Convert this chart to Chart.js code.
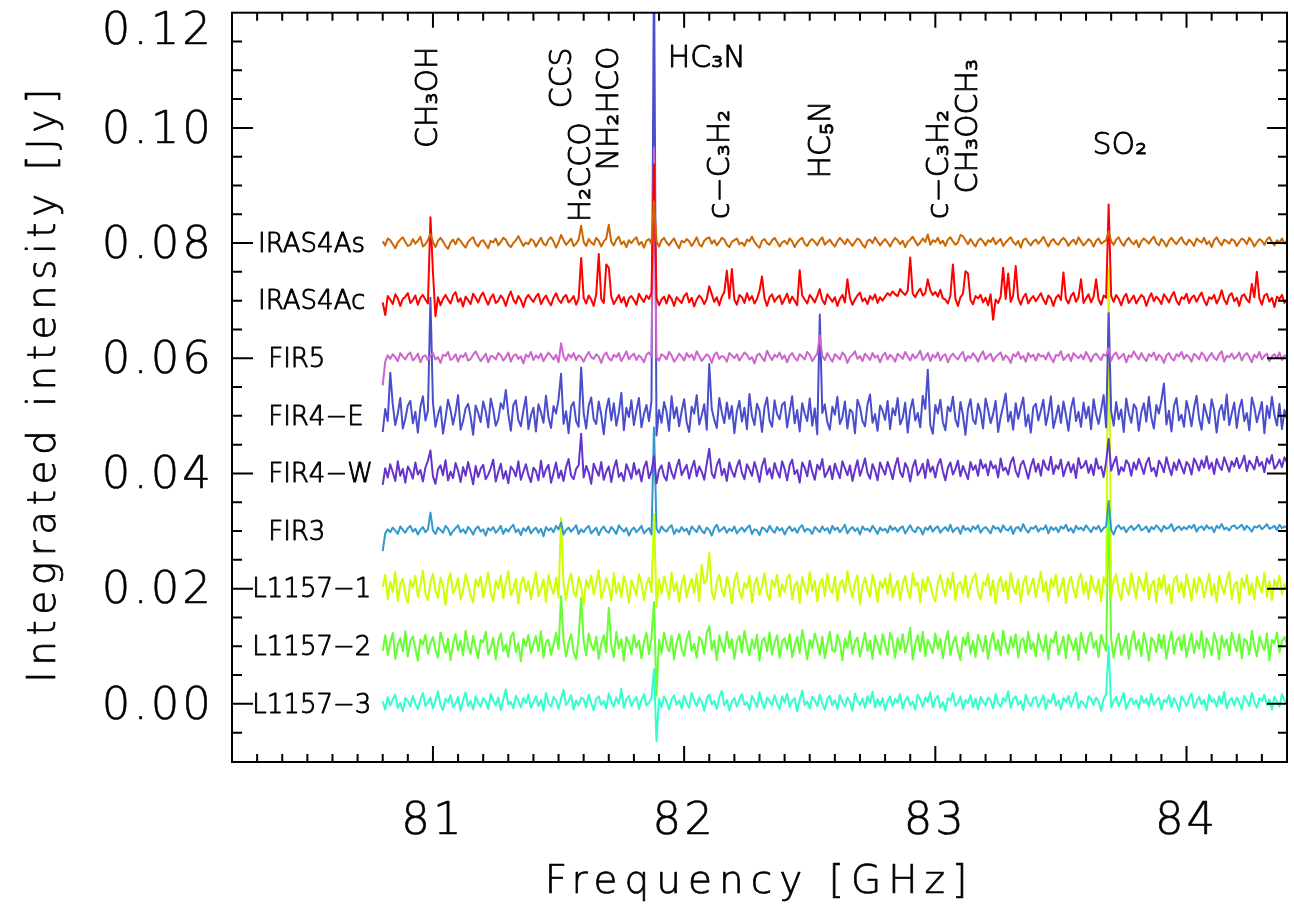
<!DOCTYPE html>
<html><head><meta charset="utf-8">
<script src="https://cdn.jsdelivr.net/npm/chart.js@4.4.0/dist/chart.umd.min.js"></script>
<style>html,body{margin:0;padding:0;background:#fff;}canvas{display:block;}</style>
</head><body>
<canvas id="c" width="1294" height="913"></canvas>
<script>
// ---------------- DATA ----------------
// Spectral channels: first channel frequency and channel width (GHz)
const freqStartGHz = 80.80;
const freqStepGHz = 0.01;

const seriesNames = ['IRAS4As', 'IRAS4Ac', 'FIR5', 'FIR4\u2212E', 'FIR4\u2212W', 'FIR3', 'L1157\u22121', 'L1157\u22122', 'L1157\u22123'];
// vertical offset of each spectrum in the stack (Jy)
const seriesOffsetJy = [0.08, 0.07, 0.06, 0.05, 0.04, 0.03, 0.02, 0.01, 0.00];

// Spectra: integrated intensity per channel in mJy (before stacking offset)
const iras4As = [
0.3,-0.4,0.8,0.5,-0.2,-0.9,0.1,0.6,1.0,0.2,-0.5,-0.3,0.7,-0.1,0.4,1.1,-0.6,-0.2,0.5,1.6,
0.2,-0.7,0.4,0.9,0.3,-0.5,-1.0,0.1,0.6,-0.2,0.8,0.4,-0.3,-0.8,0.2,0.7,1.0,-0.1,-0.6,0.3,
0.5,-0.2,-0.9,0.4,0.1,0.8,-0.4,0.2,0.9,0.6,-0.3,-0.7,0.0,0.5,1.2,0.3,-0.5,0.1,-0.2,0.7,
0.4,-0.6,0.2,0.9,-0.1,-0.4,0.6,1.0,0.3,-0.8,0.1,1.4,0.5,-0.3,0.2,0.8,-0.5,-0.1,0.6,3.0,
0.2,-0.5,0.7,0.1,-0.3,0.9,0.4,-0.6,0.3,0.8,3.2,0.2,-0.4,0.6,1.1,-0.2,0.3,-0.7,0.5,0.0,
0.6,1.0,-0.3,0.2,-0.8,0.4,0.7,-0.1,7.2,0.3,-0.6,0.5,0.9,0.1,-0.4,0.3,0.8,-0.2,-0.9,0.4,
0.1,0.7,0.3,-0.5,0.2,1.0,-0.2,-0.6,0.4,0.8,1.0,-0.1,0.5,-0.4,0.2,0.9,0.6,-0.3,-0.7,0.2,
0.5,0.8,-0.2,0.1,-0.5,0.6,0.3,1.1,0.2,-0.4,-0.8,0.4,0.7,0.0,-0.3,0.5,0.9,0.2,-0.6,0.1,
0.4,-0.2,0.8,0.3,-0.7,0.1,0.6,0.9,-0.1,-0.5,0.3,0.7,0.2,-0.4,0.5,1.0,-0.3,0.2,0.6,-0.1,
-0.6,0.3,0.9,0.4,-0.2,0.7,0.1,-0.5,0.2,0.8,0.5,-0.3,-0.8,0.4,0.6,0.0,1.0,0.3,-0.4,0.2,
0.7,0.1,-0.6,0.3,0.9,0.5,-0.2,0.4,-0.7,0.2,0.6,1.1,0.3,-0.4,0.1,0.8,0.2,1.5,-0.3,0.5,
0.2,0.9,-0.1,0.4,-0.5,0.6,1.0,0.3,-0.3,0.1,1.4,1.2,0.5,-0.2,0.7,0.0,-0.6,0.4,0.8,0.3,
-0.4,0.5,0.2,0.9,-0.2,0.3,0.7,-0.5,0.1,0.6,1.0,0.2,-0.3,0.4,-0.8,0.5,0.8,0.1,-0.4,0.3,
0.6,-0.1,0.4,1.1,0.2,-0.6,0.3,0.7,0.0,-0.3,0.5,0.9,0.4,-0.5,0.2,0.6,-0.2,1.0,0.3,-0.4,
0.1,0.7,0.3,-0.6,0.4,0.8,-0.1,0.2,0.5,2.0,0.3,-0.3,0.6,1.0,0.1,-0.5,0.4,0.9,0.2,-0.2,
0.5,-0.7,0.3,0.8,0.4,-0.1,0.6,1.1,0.0,-0.4,0.7,0.2,-0.6,0.4,0.9,0.3,-0.2,0.5,1.0,0.1,
-0.3,0.6,0.2,-0.5,0.8,0.4,0.1,0.9,-0.2,0.3,-0.7,0.5,1.0,0.2,-0.4,0.6,0.3,-0.1,0.7,0.4,
-0.5,0.2,0.8,0.5,-0.2,0.9,0.3,-0.6,0.1,0.7,0.4,-0.3,0.6,1.0,0.2,-0.4,0.5,0.1,0.8,-0.1,
0.4];
const iras4Ac = [
-0.3,-2.5,0.8,0.2,-0.6,1.1,0.4,-0.9,0.3,0.7,1.3,-0.4,0.1,0.9,-0.7,0.5,1.0,0.2,-0.5,14.5,
5.0,-2.7,0.6,-0.8,0.3,1.0,0.2,-0.5,0.9,1.5,-0.2,0.4,-1.0,0.7,0.1,-0.6,1.2,0.5,-0.3,0.8,
1.4,0.2,-0.7,0.5,1.1,-0.4,0.0,0.9,0.3,-0.9,0.6,1.6,0.2,-0.5,0.8,0.1,-1.1,0.4,1.0,0.3,
-0.2,0.7,1.2,-0.6,0.3,0.9,-0.1,-0.8,0.5,1.3,0.2,-0.4,0.6,1.0,-0.3,0.1,0.8,-0.7,0.4,7.4,
0.5,-0.5,0.9,0.2,-0.9,1.1,8.1,0.3,-0.4,6.3,5.7,0.7,-0.6,0.2,1.0,-0.3,0.6,-1.0,0.4,0.8,
0.1,-0.7,1.2,0.4,-0.2,0.9,0.3,1.4,23.7,0.5,-0.8,0.2,0.7,-0.5,1.0,0.3,-0.9,0.6,0.1,-0.4,
0.8,1.3,-0.3,0.5,-1.0,0.2,0.9,0.4,-0.6,0.3,2.5,1.1,-0.2,0.6,-0.8,0.7,1.5,5.2,0.4,5.5,
0.2,-0.7,1.0,0.6,-0.4,1.3,0.1,0.8,-0.5,0.3,1.7,4.2,0.4,-0.9,0.6,1.1,-0.2,0.5,0.9,-0.6,
0.3,1.2,-0.4,0.7,0.0,-0.8,5.3,0.9,0.2,-0.5,1.0,0.4,-0.3,0.8,2.0,0.1,-0.6,1.1,0.5,-0.2,
0.6,-0.9,0.3,1.0,-0.3,3.7,0.5,-0.7,0.2,0.9,1.4,-0.1,0.4,-0.6,0.8,0.2,1.1,-0.4,0.6,0.0,
0.7,1.3,0.9,1.6,1.1,0.8,2.0,1.4,1.0,1.7,7.5,1.2,0.6,1.5,2.1,0.9,1.3,3.7,1.8,1.0,
1.5,0.7,1.9,0.4,0.2,-0.5,0.9,6.3,0.3,-0.9,0.6,1.2,5.1,4.7,0.1,-0.6,0.8,0.4,1.0,-0.3,
0.5,-0.8,1.1,-3.3,0.2,-0.4,0.7,5.7,0.3,4.7,-0.2,0.9,6.0,0.4,-0.7,0.6,1.2,-0.5,0.3,0.8,
-0.1,0.6,1.3,0.2,-0.6,0.9,0.4,-0.9,0.5,1.0,0.1,4.9,0.3,-0.5,0.8,1.4,-0.2,0.6,3.7,-0.4,
0.4,1.1,-0.3,0.7,3.7,0.2,-0.7,0.9,0.5,16.7,0.8,-0.2,1.0,0.3,-0.8,0.6,1.2,-0.4,0.2,0.9,
-0.5,0.3,1.0,0.6,-0.9,0.4,1.3,-0.1,0.7,0.2,-0.6,1.1,0.5,-0.3,0.8,1.5,0.0,-0.7,0.6,0.3,
1.2,-0.4,0.5,0.9,-0.2,0.7,1.4,0.1,-0.8,0.6,0.3,1.0,-0.5,0.4,1.8,0.2,-0.6,0.9,1.3,-0.1,
0.5,-0.9,0.8,1.1,0.2,-0.3,2.9,0.6,5.0,0.4,-0.7,0.9,1.2,-0.2,0.5,-1.1,0.7,0.3,1.0,-0.4,
0.2];
const fir5 = [
-4.7,-0.6,0.5,-0.1,0.7,0.2,-0.5,0.9,0.3,-0.2,0.6,1.0,-0.4,0.1,0.8,-0.7,0.3,0.5,-0.3,0.4,
0.9,-0.2,0.2,-0.8,0.6,0.4,1.1,-0.3,0.0,0.7,-0.6,0.5,0.2,0.9,-0.4,-0.1,0.6,1.2,0.3,-0.5,
0.1,0.8,-0.7,0.4,0.3,-0.2,0.9,0.5,-0.4,0.2,1.0,-0.6,0.4,0.7,-0.1,0.3,-0.9,0.6,0.2,1.1,
-0.3,0.5,0.0,0.8,-0.5,0.3,1.0,0.4,-0.2,0.6,-0.7,2.6,0.3,-0.4,0.7,0.1,0.9,-0.3,0.5,0.2,
-0.6,0.4,1.1,0.2,-0.1,0.7,0.3,-0.8,0.5,1.0,0.0,-0.4,0.6,0.2,0.9,-0.5,0.3,1.2,-0.2,0.4,
0.8,-0.3,0.5,0.1,-0.7,0.6,1.0,0.3,36.5,0.2,-0.4,0.7,0.4,-0.2,1.1,0.5,-0.6,0.0,0.8,0.3,
-0.4,0.9,0.2,0.6,-0.3,1.2,0.4,-0.5,0.1,0.7,0.3,-0.8,0.6,1.0,-0.1,0.4,0.2,-0.6,0.9,0.5,
0.0,0.7,-0.4,0.3,1.0,0.6,-0.2,0.2,-0.9,0.5,0.8,0.1,-0.5,1.3,0.4,-0.3,0.6,0.2,1.0,-0.1,
0.5,-0.7,0.4,0.9,0.1,-0.4,0.7,0.3,-0.2,1.1,0.6,-0.5,0.2,0.8,4.0,0.4,-0.3,0.9,0.1,-0.6,
0.7,0.3,-0.2,1.0,0.5,-0.8,0.2,0.6,1.2,-0.1,0.4,-0.5,0.8,0.3,-0.3,0.9,0.1,0.5,-0.7,0.4,
1.0,-0.2,0.6,0.2,-0.6,0.8,0.4,-0.1,1.1,0.3,-0.4,0.7,0.0,0.5,1.3,-0.3,0.2,0.9,-0.5,0.6,
0.1,1.0,-0.4,0.4,0.7,-0.7,0.3,0.8,0.2,-0.2,0.6,1.1,-0.5,0.4,0.0,0.9,0.3,-0.6,0.5,1.2,
-0.2,0.4,0.8,-0.5,0.2,0.6,1.0,-0.3,0.5,0.1,-0.8,0.7,0.3,1.1,-0.1,0.4,-0.6,0.9,0.2,0.6,
-0.4,0.8,0.3,0.5,-0.2,1.0,0.1,-0.7,0.6,0.4,1.2,-0.3,0.2,0.7,-0.5,0.9,0.4,0.0,0.6,-0.2,
1.1,0.3,-0.6,0.5,0.8,0.2,-0.3,0.7,0.4,1.8,-0.4,0.6,1.0,-0.1,0.3,0.8,-0.7,0.5,0.2,1.2,
0.4,-0.2,0.9,0.1,-0.5,0.7,0.3,1.0,-0.3,0.6,0.2,-0.8,0.5,0.9,0.0,-0.4,0.7,0.3,1.1,-0.1,
0.6,0.2,-0.6,0.8,0.4,-0.2,1.0,0.5,-0.5,0.3,0.9,0.1,-0.3,0.7,1.2,-0.6,0.4,0.2,0.8,-0.1,
0.3,1.0,-0.4,0.5,0.9,0.2,-0.7,0.6,0.1,1.1,-0.2,0.4,0.8,-0.5,0.3,0.7,0.0,1.0,-0.3,0.5,
0.4];
const fir4E = [
-2.8,1.2,-0.9,7.5,2.0,-1.6,0.4,3.1,-2.2,-0.5,1.8,2.6,-1.3,0.7,-2.9,1.5,3.4,-0.8,0.9,20.5,
2.3,-1.9,0.2,1.6,-3.1,-0.4,2.8,1.0,-1.5,0.6,3.6,-2.4,-0.9,1.3,2.1,-0.2,-3.3,1.8,0.5,-1.1,
2.5,0.8,-2.0,3.0,1.1,-1.7,-0.6,2.2,1.2,4.5,0.3,-2.6,1.9,2.7,-0.7,-1.8,0.9,3.3,-2.3,0.1,
1.4,-2.7,2.0,0.6,-1.2,3.5,-0.3,-2.1,1.7,0.4,2.9,7.3,-1.4,0.8,-3.0,1.6,2.4,-0.9,-1.9,8.4,
0.5,-2.2,1.8,3.2,-0.6,-1.4,2.5,0.2,-3.2,1.1,3.0,-0.8,2.2,-1.7,0.6,4.0,-2.5,1.4,-0.2,2.7,
-1.6,0.9,3.1,-2.0,0.3,1.9,-0.9,2.6,80.0,-3.4,1.0,-1.2,2.4,0.7,-2.6,3.4,-0.4,1.5,-1.8,0.8,
2.9,-1.1,-2.8,1.6,0.4,3.6,-1.5,0.1,2.0,-2.4,9.0,1.2,-0.7,-2.1,3.1,0.6,-1.3,2.3,-0.5,1.7,
-3.0,0.8,2.6,-1.0,1.4,-2.3,3.8,0.0,-1.6,2.1,0.9,-2.8,1.5,3.2,-0.8,-1.9,2.7,0.3,-0.6,1.9,
2.4,-2.0,0.7,3.4,-1.3,1.0,-2.7,2.2,0.4,-0.9,3.0,-1.7,1.3,-3.2,17.6,0.5,2.0,-1.1,-2.4,1.6,
0.2,3.3,-1.4,-0.3,2.5,-2.2,1.1,0.6,-3.0,2.8,1.5,-0.9,-1.8,2.0,3.7,-1.2,0.3,-2.6,1.8,0.9,
-0.7,2.6,-2.3,1.3,0.1,3.1,-1.5,-0.4,2.3,-2.9,1.0,2.9,-0.8,0.5,-2.0,3.5,1.2,8.0,-1.6,-3.1,
1.9,0.4,2.8,-1.1,-2.5,1.6,0.8,3.3,-0.6,-1.9,2.4,0.1,-3.3,1.2,2.9,-0.7,-1.4,2.1,0.6,-2.2,
3.0,1.1,-1.3,0.3,2.6,-2.8,-0.2,1.7,3.9,-1.0,0.7,-2.4,2.2,-0.5,1.4,3.2,-1.8,0.2,-2.9,1.5,
2.1,-0.8,0.9,2.8,-1.6,0.5,3.4,-2.1,-0.3,1.8,-1.2,2.5,0.2,-2.6,1.3,3.1,-0.9,0.7,-1.9,2.3,
-0.4,1.6,-2.3,2.9,0.3,-1.4,1.0,3.6,-2.0,17.8,0.8,-1.7,2.4,-0.6,1.1,-2.8,3.0,0.5,-1.2,2.0,
1.3,-2.6,0.6,2.2,-1.0,3.3,-0.3,-2.2,1.9,0.4,2.7,5.6,-1.5,0.9,-2.7,1.7,3.1,-0.8,0.2,-1.9,
2.6,0.7,-1.8,1.4,3.5,-0.5,-2.4,2.0,0.3,-1.3,2.9,1.0,-2.9,0.8,1.9,-0.7,3.7,-1.6,0.4,2.3,
-2.1,1.2,2.8,-0.9,0.5,-2.5,3.2,1.5,-1.1,0.6,2.4,-3.0,1.7,-0.4,3.3,0.2,-1.7,2.1,-2.3,1.0,
-0.6];
const fir4W = [
-2.0,0.9,-0.7,1.6,0.2,-1.3,2.1,-0.4,0.8,-1.6,1.2,0.4,-0.9,1.9,-0.2,0.6,-1.4,1.0,2.2,4.0,
-0.5,-1.8,0.7,1.4,-0.3,2.3,-1.2,0.3,-0.8,1.8,0.5,-1.5,1.1,-0.4,2.0,0.1,-1.9,1.3,-0.6,0.8,
1.5,-1.0,-0.2,0.9,2.4,-1.4,0.2,1.7,-0.9,0.4,-1.7,1.2,0.6,-0.5,2.1,-1.1,0.3,1.6,-0.3,-1.5,
1.0,0.4,-1.2,2.2,-0.6,0.7,1.5,-1.6,0.1,1.9,-0.8,0.5,-1.3,1.1,2.5,-0.4,-1.0,0.8,1.4,6.9,
-0.7,1.3,0.2,-1.8,1.7,0.6,-0.4,2.0,-1.1,0.3,1.2,-1.5,0.9,2.3,-0.6,0.1,-1.3,1.6,0.5,-0.9,
1.8,-0.2,0.7,-1.4,1.0,2.1,-0.8,0.4,3.0,-1.7,0.6,1.4,-0.5,-1.2,1.9,0.2,-0.9,1.1,2.4,-0.3,
0.6,1.5,-0.9,0.9,2.2,-0.5,1.2,0.3,-1.1,1.7,4.3,0.0,-0.8,1.4,2.5,-0.3,0.8,-1.3,1.9,0.4,
-0.6,1.2,2.3,0.1,-1.0,1.6,0.7,-0.4,2.0,0.5,-1.5,1.3,2.6,-0.2,0.9,-0.9,1.8,0.4,-0.7,2.1,
0.8,-1.2,1.4,2.4,-0.1,0.6,-1.6,1.9,1.0,-0.5,2.2,0.3,-1.1,1.5,0.7,2.5,-0.6,0.2,1.3,-1.0,
1.7,0.4,-0.8,2.1,0.9,-0.3,1.4,-1.3,0.6,2.3,-0.4,1.0,2.6,0.1,-0.9,1.6,0.5,-1.2,1.9,0.8,
-0.2,2.0,0.7,-1.0,1.3,2.7,0.2,-0.6,1.8,0.9,-1.4,1.1,2.3,-0.3,0.5,1.7,-0.8,2.4,0.3,1.2,
-0.7,1.5,2.5,0.4,-1.2,1.0,1.9,-0.2,0.8,2.2,-0.5,1.3,0.2,-1.0,2.0,0.6,1.4,-0.4,2.4,0.9,
1.6,-0.3,2.1,0.9,1.4,-0.7,2.6,0.5,1.0,-0.2,1.9,2.8,0.4,-0.6,1.5,2.2,0.7,-0.9,1.2,2.5,
0.3,1.7,-0.4,2.3,1.1,0.6,2.9,-0.1,1.4,0.8,2.4,-0.5,1.0,2.0,0.2,1.6,-0.8,2.7,0.9,1.3,
2.2,0.1,1.5,-0.3,2.6,0.8,1.2,-0.6,2.0,6.0,0.5,1.8,2.9,-0.2,1.1,0.4,2.3,1.6,-0.4,1.9,
0.7,2.5,1.3,-0.1,1.8,2.7,0.4,1.0,-0.5,2.2,1.5,0.2,2.8,1.1,-0.3,1.9,0.6,2.4,1.2,0.0,
2.0,1.4,-0.2,2.6,1.7,0.5,2.3,1.0,3.0,0.8,1.9,-0.1,2.5,1.3,0.6,2.8,1.6,0.3,2.1,1.2,
2.7,0.9,1.8,3.1,0.4,2.2,1.5,0.7,2.9,1.3,2.0,0.2,2.6,1.7,3.2,0.8,1.4,2.4,1.1,2.8,
1.9];
const fir3 = [
-3.5,-0.4,0.3,-0.2,0.6,0.1,-0.5,0.8,0.2,-0.3,0.5,0.9,-0.1,0.4,-0.6,0.2,0.7,-0.2,0.3,3.2,
0.1,-0.5,0.6,0.2,-0.3,0.9,0.4,-0.7,0.0,0.5,1.0,-0.2,0.3,-0.4,0.7,0.2,-0.6,0.4,0.8,-0.1,
0.3,-0.8,0.5,0.1,0.7,-0.3,0.2,0.9,-0.5,0.4,-0.1,0.6,1.1,-0.2,0.3,-0.7,0.5,0.0,0.8,-0.4,
0.2,0.6,-0.3,0.4,-0.9,0.7,0.1,0.5,-0.2,0.9,0.3,1.5,-0.6,0.2,0.6,-0.1,0.4,1.0,-0.5,0.3,
-0.2,0.5,0.9,-0.4,0.1,0.6,-0.7,0.3,0.8,0.0,-0.3,0.7,0.2,-0.5,1.0,0.4,-0.1,0.5,-0.8,0.2,
0.6,-0.2,0.3,0.9,-0.4,0.1,0.5,-0.6,18.0,0.4,-0.3,0.8,0.2,-0.1,0.6,1.0,-0.5,0.3,-0.2,0.7,
0.0,0.4,-0.6,0.8,0.3,-0.2,0.9,0.1,-0.4,0.6,0.2,-0.8,0.5,1.1,-0.1,0.3,0.7,-0.3,0.4,0.0,
0.8,-0.4,0.2,0.6,-0.1,0.5,1.0,-0.5,0.3,0.1,-0.7,0.6,0.4,-0.2,0.9,0.2,-0.3,0.7,0.1,0.5,
-0.6,0.3,0.8,0.0,0.5,-0.3,0.6,1.0,-0.1,0.4,0.2,-0.5,0.7,0.3,-0.2,0.8,0.1,0.5,-0.4,0.9,
0.2,0.6,-0.2,0.4,1.1,-0.4,0.3,0.7,0.0,0.5,-0.6,0.8,0.2,0.4,-0.1,0.9,0.3,-0.5,0.6,0.1,
0.4,-0.3,0.9,0.2,0.6,-0.1,0.5,0.8,-0.4,0.3,1.0,0.1,-0.2,0.7,0.4,-0.6,0.6,0.2,0.9,-0.1,
0.5,0.8,-0.3,0.3,0.7,0.0,1.1,-0.2,0.4,0.6,-0.5,0.9,0.2,0.5,-0.1,0.8,0.3,1.0,-0.3,0.4,
0.7,0.2,-0.4,0.9,0.4,0.6,-0.2,1.0,0.3,0.1,0.8,-0.5,0.5,0.7,0.0,1.2,0.3,-0.3,0.6,0.4,
0.9,-0.1,0.5,0.3,1.0,-0.4,0.7,0.2,0.6,-0.2,0.8,0.4,1.1,0.0,0.5,-0.3,0.9,0.3,0.6,0.1,
1.0,0.4,-0.2,0.7,0.3,0.9,-0.1,0.5,0.8,5.2,0.2,-0.6,0.6,1.0,0.3,0.7,-0.2,0.5,0.9,0.2,
0.6,1.1,0.1,0.4,0.8,-0.2,0.7,0.3,1.0,0.5,-0.1,0.9,0.4,0.6,1.2,0.0,0.5,0.8,0.2,0.7,
0.3,0.9,0.5,1.1,-0.1,0.6,0.8,0.2,1.0,0.4,0.7,-0.2,0.9,0.5,1.2,0.3,0.6,0.1,0.8,1.0,
0.4,0.7,1.1,0.2,0.9,0.5,-0.1,0.8,0.6,1.0,0.3,0.7,1.2,0.4,0.6,0.9,0.2,1.1,0.5,0.8,
0.6];
const l1157_1 = [
0.3,2.4,-1.8,1.2,-0.6,2.9,-2.1,0.8,1.7,-1.0,-2.5,1.5,0.2,2.2,-1.4,0.6,3.1,-0.9,-2.0,1.0,
2.6,-0.4,-1.6,1.9,0.5,-2.8,1.3,2.7,-0.8,0.1,1.8,-1.9,-0.3,2.5,0.9,-1.2,-2.4,1.6,0.4,2.1,
-1.5,0.7,2.8,-0.7,-2.2,1.4,0.0,2.3,-1.7,1.1,3.0,-1.1,-0.2,1.7,-2.6,0.9,2.0,-0.5,1.3,-1.8,
0.6,2.9,-1.3,-0.1,1.6,-2.3,2.4,0.3,-0.9,1.9,-1.6,12.3,0.8,-2.0,1.2,2.6,-0.6,-1.4,2.0,0.4,
-2.7,1.5,0.1,2.3,-1.0,0.9,3.2,-1.7,-0.3,1.8,0.5,-2.1,2.7,-0.8,1.0,-1.5,2.2,0.6,-2.5,1.4,
0.2,-1.2,2.5,1.0,-2.0,0.7,1.9,-0.6,13.0,-3.2,1.6,-0.9,2.1,0.3,-1.8,2.8,-0.4,1.1,-2.3,0.8,
2.3,-1.5,0.4,1.7,-0.8,2.6,-2.2,4.1,0.9,1.5,6.2,-0.7,-1.9,1.2,2.4,-0.3,-1.3,2.0,0.5,-2.6,
1.3,2.8,-0.5,-1.7,1.0,0.1,2.2,-2.4,0.7,1.9,-1.1,0.4,2.7,-0.9,-2.0,1.5,0.3,2.4,-1.4,0.8,
-0.6,1.8,2.5,-1.9,0.6,1.2,-2.5,2.0,0.2,-1.0,2.9,-0.4,1.4,-2.2,0.9,1.7,-1.3,2.6,0.0,-0.8,
2.1,-2.1,0.8,1.5,-0.7,3.0,0.4,-1.6,1.1,2.3,-2.7,0.5,1.9,-0.2,-1.4,2.4,0.7,-2.3,1.3,0.1,
1.8,-0.9,2.6,-1.5,0.3,1.4,-2.0,0.9,2.2,-0.3,-1.7,2.7,0.5,1.1,-2.4,1.6,-0.5,2.0,0.8,-1.2,
-2.2,1.0,2.4,0.2,-1.3,1.9,-0.1,2.8,-2.0,0.7,1.2,-0.8,2.3,-1.6,0.4,1.8,2.6,-0.7,-1.9,1.1,
0.6,2.5,-1.2,1.4,-2.6,0.9,2.0,-0.4,1.3,-1.8,2.7,0.2,-0.9,1.6,-2.3,1.0,2.2,-1.1,0.5,1.8,
-1.5,0.7,2.9,-0.6,1.2,-2.1,1.7,0.3,2.4,-1.3,0.1,1.9,-2.5,0.8,2.1,-0.2,-1.6,1.5,2.6,-0.9,
1.1,-1.8,2.3,0.4,-0.7,1.6,-2.2,2.0,0.6,55.5,-1.4,1.3,2.5,-0.5,-2.0,1.8,0.2,-1.1,2.7,0.5,
-1.7,2.1,0.9,-0.4,2.8,-1.9,0.6,1.4,-2.4,1.9,0.0,2.4,-1.0,0.7,-2.6,1.6,2.2,-0.6,1.1,-1.5,
2.5,0.3,-2.1,1.7,-0.8,2.0,1.0,-1.6,0.5,2.6,-1.2,0.8,-2.3,2.2,0.4,-0.9,1.5,2.9,-1.8,0.7,
1.2,-2.5,1.8,0.1,2.4,-1.1,0.9,-1.9,2.1,0.6,-0.7,2.8,-1.4,1.3,-2.0,1.6,0.3,2.3,-1.0,0.8,
-0.4];
const l1157_2 = [
-0.8,1.9,-1.5,0.6,2.3,-2.2,0.2,1.4,-0.9,2.6,-1.8,0.9,1.7,-0.4,-2.5,1.2,0.3,2.0,-1.3,0.5,
1.6,-0.6,-2.0,2.4,0.8,-1.1,1.3,-2.4,0.4,2.1,-0.7,1.0,-1.6,2.7,0.1,-1.3,1.8,-0.2,-2.1,1.1,
0.7,2.5,-1.4,-0.3,1.5,-2.3,0.9,2.2,-0.8,0.3,-1.9,1.7,2.4,-1.0,0.5,-2.6,1.3,0.0,2.0,-1.2,
0.4,1.8,-0.9,2.6,-2.0,0.8,1.1,-1.5,0.2,2.3,-0.5,8.7,1.0,-1.8,0.6,2.1,-1.1,-2.3,1.5,8.4,
0.9,-1.6,2.2,0.3,-0.7,1.7,-2.2,0.5,1.9,-1.0,6.7,0.1,-1.9,2.5,-0.4,1.2,-2.5,1.6,0.7,-1.3,
2.0,-0.2,1.0,-2.1,0.8,2.3,-1.4,1.5,7.7,-8.6,1.1,-1.2,2.4,0.2,-0.9,1.8,-2.3,0.6,2.1,-0.5,
-1.7,1.3,2.6,-0.8,0.4,-2.0,1.6,0.9,-1.3,2.3,3.5,-0.6,1.0,-2.4,1.9,0.2,-1.0,2.5,-0.3,1.2,
-2.2,0.7,1.8,-1.1,2.7,0.3,-1.6,1.2,-0.4,2.0,-2.5,0.9,1.5,-0.9,2.4,-1.4,0.6,1.9,-2.0,0.8,
1.4,-0.5,2.1,-1.9,0.2,1.6,-1.2,2.8,0.5,-2.3,1.1,-0.3,2.2,0.7,-1.5,1.7,-2.1,0.4,2.5,-0.7,
-1.0,2.0,0.6,-2.4,1.3,-0.2,2.6,-1.3,0.8,1.5,-1.8,0.3,2.3,-0.8,1.0,-2.2,1.8,0.5,-1.4,2.1,
0.2,-1.5,2.4,0.9,-2.0,1.4,-0.6,2.1,-1.1,0.7,3.2,-2.3,0.4,1.9,-0.9,2.5,-1.7,1.1,0.0,-1.2,
2.2,-0.4,1.3,-2.1,0.8,2.6,-1.5,0.5,1.7,-0.8,-2.4,1.5,0.2,2.3,-1.2,0.9,-1.9,2.0,0.6,-0.9,
1.8,-2.2,0.7,2.4,-0.6,1.1,-1.6,2.7,0.3,-1.3,1.6,-0.2,2.1,-2.0,0.9,1.4,-1.1,2.5,-0.5,0.6,
-1.8,2.2,0.4,-0.9,1.9,-2.3,1.2,0.6,2.5,-1.4,0.1,1.7,-2.1,2.0,0.8,-0.7,1.4,-2.4,2.3,0.3,
-1.2,1.6,2.4,-0.3,0.9,-1.9,2.0,0.5,-0.8,23.7,1.3,-2.0,0.7,2.2,-1.5,0.2,1.8,-2.2,1.0,2.6,
-0.6,1.1,-1.7,2.3,0.4,-2.5,1.5,0.8,-1.0,2.1,-0.3,1.9,-2.2,0.6,2.5,-1.3,0.9,1.6,-0.7,2.0,
-1.9,0.5,2.2,-1.2,1.0,-0.4,2.6,-2.0,1.4,0.3,-1.5,2.3,0.7,-2.3,1.8,-0.1,1.2,-1.6,2.4,0.6,
-0.9,2.1,-2.1,1.3,0.8,-1.4,2.7,0.1,-1.8,1.7,0.4,-0.7,2.2,-2.4,1.1,0.5,2.4,-1.1,0.9,1.6,
0.3];
const l1157_3 = [
0.4,-1.0,1.2,-0.3,0.8,1.6,-0.7,0.2,-1.3,1.0,0.5,-0.5,1.4,0.0,-0.9,0.7,1.9,-0.4,0.3,1.1,
-0.8,0.6,2.2,-0.2,-1.1,0.9,0.3,1.5,-0.6,0.1,1.2,-1.2,0.7,2.0,-0.4,0.5,-1.0,1.3,0.2,-0.5,
1.0,0.4,-0.9,1.7,0.6,-0.3,1.1,-1.1,0.8,2.5,-0.1,0.3,-0.8,1.4,0.5,-0.6,1.0,0.2,1.6,-0.7,
0.3,1.3,-0.4,0.7,-1.2,1.9,0.1,-0.5,1.2,0.6,-0.9,0.9,2.4,-0.2,0.4,1.5,-1.0,0.6,-0.3,1.1,
0.8,-0.6,1.6,0.2,-1.1,0.9,1.3,-0.2,0.5,-0.8,1.8,0.4,-0.5,1.1,0.0,2.6,-0.7,0.8,1.4,-0.4,
0.5,1.2,-0.9,0.7,1.7,-0.3,0.2,1.0,6.0,-6.5,0.9,-0.6,1.3,0.4,-1.0,0.8,1.5,-0.2,0.6,-0.8,
1.4,0.1,-0.7,1.9,0.6,-0.4,1.1,0.3,-1.2,0.9,1.6,-0.1,0.5,-0.9,1.2,2.2,-0.3,0.7,-1.1,0.4,
1.0,-0.5,0.8,1.7,-0.2,0.3,-1.0,1.4,0.6,-0.6,2.0,0.2,-0.8,1.1,0.5,-0.3,1.5,0.0,-0.9,1.3,
0.2,1.8,-0.6,0.5,1.0,-1.3,0.7,2.3,-0.2,0.4,-0.8,1.2,0.6,-0.4,1.6,0.1,-1.0,0.9,1.4,-0.3,
0.7,-0.9,1.5,0.3,-0.5,1.1,0.4,-1.2,1.8,0.6,-0.2,0.9,-0.7,1.3,0.2,2.1,-0.6,0.8,-0.3,1.0,
-1.1,0.5,1.3,-0.4,0.9,0.2,1.7,-0.8,0.6,1.2,-0.3,0.4,-1.0,1.6,0.7,-0.5,1.1,0.3,2.0,-0.6,
0.8,1.4,-0.7,0.3,-1.2,1.0,0.5,1.9,-0.4,0.2,1.3,-0.9,0.7,0.1,1.5,-0.6,0.9,-1.0,1.2,0.4,
-0.3,1.1,0.6,-0.8,1.7,0.2,-0.5,1.0,0.4,2.2,-0.7,0.8,1.3,-0.2,0.5,-1.1,1.6,0.3,-0.4,0.9,
1.2,-0.6,0.4,1.5,-0.9,0.7,0.2,1.8,-0.3,0.6,-1.0,1.0,0.3,1.4,-0.5,0.8,2.0,-0.8,0.5,0.1,
-0.7,1.3,0.8,-0.2,1.1,0.4,-1.2,0.9,1.6,10.0,-0.6,0.5,1.2,-0.4,0.7,1.9,-0.9,0.3,1.0,-0.1,
0.6,-0.8,1.4,0.2,0.9,-0.5,1.7,-0.2,0.5,1.1,-1.0,0.7,0.3,1.5,-0.6,1.0,0.1,-1.2,1.3,0.6,
-0.4,0.9,1.8,-0.7,0.4,1.2,-0.1,0.7,-1.1,1.6,0.3,0.8,-0.5,1.3,0.0,2.1,-0.8,0.5,1.0,-0.3,
1.1,0.2,-0.9,1.4,0.6,-0.4,1.9,0.3,-0.7,1.0,0.5,1.6,-0.2,0.8,-1.0,1.2,0.4,-0.5,1.7,0.6,
0.2];

const seriesColors = ['#cc6600', '#ff0000', '#cc66cc', '#4a4ecc', '#6633cc', '#3399cc', '#ccff00', '#66ff33', '#33ffcc'];

// Axis ticks and titles
const xTickValues = [81, 82, 83, 84];
const yTickValues = [0.00, 0.02, 0.04, 0.06, 0.08, 0.10, 0.12];
const xTitle = 'Frequency [GHz]';
const yTitle = 'Integrated intensity [Jy]';

// Molecule identifications
const lineNames = ['CH\u2083OH', 'H\u2082CCO', 'CCS', 'NH\u2082HCO', 'HC\u2083N', 'c\u2212C\u2083H\u2082', 'HC\u2085N', 'c\u2212C\u2083H\u2082', 'CH\u2083OCH\u2083', 'SO\u2082'];

// ---------------- BUILD ----------------
const seriesValues = [iras4As, iras4Ac, fir5, fir4E, fir4W, fir3, l1157_1, l1157_2, l1157_3];
const freqGHz = iras4As.map((_, i) => +(freqStartGHz + i * freqStepGHz).toFixed(4));

const datasets = seriesNames.map((name, s) => ({
  label: name,
  data: seriesValues[s].map((v, i) => ({ x: freqGHz[i], y: seriesOffsetJy[s] + v / 1000 })),
  borderColor: seriesColors[s],
  backgroundColor: seriesColors[s],
  borderWidth: 2,
  pointRadius: 0,
  tension: 0,
  fill: false,
  borderJoinStyle: 'round'
}));

// annotation layout (data coordinates): series name labels and molecule labels
const seriesLabelFreq = [80.304, 80.304, 80.344, 80.344, 80.344, 80.344, 80.281, 80.281, 80.281];
const lineLabelLayout = [
  { f: 81.016, v: 0.0965, vertical: true },
  { f: 81.625, v: 0.0836, vertical: true },
  { f: 81.549, v: 0.1034, vertical: true },
  { f: 81.736, v: 0.0926, vertical: true },
  { f: 81.935, v: 0.1106, vertical: false },
  { f: 82.178, v: 0.0842, vertical: true },
  { f: 82.580, v: 0.0912, vertical: true },
  { f: 83.049, v: 0.0842, vertical: true },
  { f: 83.165, v: 0.0886, vertical: true },
  { f: 83.626, v: 0.0954, vertical: false }
];

const FONT = '"DejaVu Sans", "Liberation Sans", sans-serif';

function drawText(ctx, text, px, py, stroke) {
  ctx.fillText(text, px, py);
  if (stroke) { ctx.lineWidth = stroke; ctx.strokeText(text, px, py); }
}

const decor = {
  id: 'decor',
  afterDatasetsDraw(chart) {
    const { ctx, chartArea: a, scales: { x, y } } = chart;
    ctx.save();
    ctx.strokeStyle = '#000';
    ctx.lineWidth = 2;
    ctx.lineCap = 'butt';
    ctx.strokeRect(a.left, a.top, a.right - a.left, a.bottom - a.top);
    ctx.beginPath();
    for (let k = 3; k <= 43; k++) {
      const px = x.getPixelForValue(80 + k / 10);
      const major = k % 10 === 0;
      const lb = major ? 16 : 8, lt = major ? 15 : 8;
      ctx.moveTo(px, a.bottom); ctx.lineTo(px, a.bottom - lb);
      ctx.moveTo(px, a.top); ctx.lineTo(px, a.top + lt);
    }
    for (let k = -1; k <= 23; k++) {
      const py = y.getPixelForValue(k * 0.005);
      const major = k % 4 === 0;
      const ll = major ? 21 : 10, lr = major ? 20 : 9;
      ctx.moveTo(a.left, py); ctx.lineTo(a.left + ll, py);
      ctx.moveTo(a.right, py); ctx.lineTo(a.right - lr, py);
    }
    ctx.stroke();

    ctx.fillStyle = '#000';
    ctx.lineJoin = 'round';
    ctx.font = `200 45px ${FONT}`;
    ctx.letterSpacing = '3px';
    ctx.textAlign = 'right';
    ctx.textBaseline = 'middle';
    yTickValues.forEach(v => {
      const py = Math.max(y.getPixelForValue(v) + 3, a.top + 20);
      drawText(ctx, v.toFixed(2), 214, py, 0.6);
    });
    ctx.textAlign = 'center';
    xTickValues.forEach(f => {
      drawText(ctx, String(f), x.getPixelForValue(f), 822, 0.6);
    });
    ctx.font = `200 39px ${FONT}`;
    ctx.letterSpacing = '7px';
    ctx.textBaseline = 'alphabetic';
    drawText(ctx, xTitle, (a.left + a.right) / 2, 893, 0.7);
    ctx.save();
    ctx.letterSpacing = '5.5px';
    ctx.translate(55, 383);
    ctx.rotate(-Math.PI / 2);
    ctx.textAlign = 'center';
    drawText(ctx, yTitle, 0, 0, 0.7);
    ctx.restore();

    ctx.letterSpacing = '0px';
    ctx.font = `200 26px ${FONT}`;
    ctx.textAlign = 'left';
    ctx.textBaseline = 'middle';
    seriesNames.forEach((n, s) => {
      drawText(ctx, n, x.getPixelForValue(seriesLabelFreq[s]), y.getPixelForValue(seriesOffsetJy[s]) + 2, 0.9);
    });

    ctx.font = `200 30px ${FONT}`;
    ctx.textBaseline = 'alphabetic';
    lineNames.forEach((n, i) => {
      const L = lineLabelLayout[i];
      const px = x.getPixelForValue(L.f), py = y.getPixelForValue(L.v);
      if (L.vertical) {
        ctx.save();
        ctx.translate(px, py);
        ctx.rotate(-Math.PI / 2);
        ctx.textAlign = 'left';
        drawText(ctx, n, 0, 0, 0.9);
        ctx.restore();
      } else {
        ctx.textAlign = 'left';
        drawText(ctx, n, px, py, 0.9);
      }
    });
    ctx.restore();
  }
};

new Chart(document.getElementById('c').getContext('2d'), {
  type: 'line',
  data: { datasets },
  options: {
    responsive: false,
    animation: false,
    devicePixelRatio: 1,
    parsing: false,
    normalized: true,
    layout: { padding: { left: 232, top: 12.7, right: 7, bottom: 151 } },
    plugins: { legend: { display: false }, tooltip: { enabled: false }, title: { display: false } },
    scales: {
      x: { type: 'linear', min: 80.2, max: 84.4, display: false },
      y: { type: 'linear', min: -0.0101, max: 0.12, display: false }
    }
  },
  plugins: [decor]
});
</script>
</body></html>
